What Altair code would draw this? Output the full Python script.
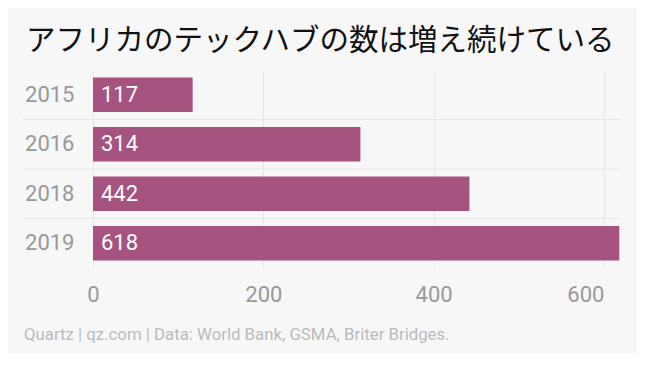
import altair as alt
import pandas as pd

years = ["2015", "2016", "2018", "2019"]
hubs = [117, 314, 442, 618]
x_ticks = [0, 200, 400, 600]
divider_years = ["2016", "2018", "2019"]

title_text = "アフリカのテックハブの数は増え続けている"
footer_text = "Quartz | qz.com | Data: World Bank, GSMA, Briter Bridges."

df = pd.DataFrame({"year": years, "hubs": hubs})
div_df = pd.DataFrame({"year": divider_years})
foot_df = pd.DataFrame({"t": [footer_text]})

W, H = 528, 198
BAR = "#a6547f"
LABEL_FONT = "Roboto"

yscale = alt.Scale(domain=years, paddingInner=0.3, paddingOuter=0.15)
xscale = alt.Scale(domain=[0, 620], nice=False)

bars = alt.Chart(df).mark_bar(color=BAR).encode(
    x=alt.X("hubs:Q", scale=xscale,
            axis=alt.Axis(values=x_ticks, title=None, domain=False, ticks=False,
                          grid=True, gridColor="#e6e6e6", gridWidth=1,
                          labelFont=LABEL_FONT, labelFontSize=22, labelColor="#999999",
                          labelPadding=16,
                          labelAlign=alt.expr("datum.value >= 600 ? 'right' : 'center'"))),
    y=alt.Y("year:N", scale=yscale,
            axis=alt.Axis(title=None, domain=False, ticks=False, grid=False,
                          labelFont=LABEL_FONT, labelFontSize=22, labelColor="#999999",
                          labelPadding=19)),
)

labels = alt.Chart(df).mark_text(
    align="left", baseline="middle", dx=8, color="white",
    font=LABEL_FONT, fontSize=22
).encode(
    x=alt.datum(0, scale=xscale),
    y=alt.Y("year:N", scale=yscale),
    text="hubs:Q",
)

dividers = alt.Chart(div_df).mark_rule(color="#e6e6e6", strokeWidth=1).encode(
    y=alt.Y("year:N", scale=yscale),
    yOffset=alt.value(-7.4),
    x=alt.value(-70),
    x2=alt.value(W),
)

footer = alt.Chart(foot_df).mark_text(
    align="left", baseline="alphabetic", color="#bbbbbb",
    font=LABEL_FONT, fontSize=16.8
).encode(
    x=alt.value(-69),
    y=alt.value(270),
    text="t:N",
)

chart = alt.layer(dividers, bars, labels, footer).properties(
    width=W, height=H,
    title=alt.Title(title_text, anchor="start", frame="group", dx=-67,
                    offset=21, dy=30, baseline="alphabetic",
                    font="Noto Sans CJK JP", fontSize=29.5, fontWeight="normal",
                    color="#111111"),
    autosize=alt.AutoSizeParams(type="none"),
    padding={"left": 85, "top": 62, "right": 16, "bottom": 85},
    background="#f7f7f7",
).configure_view(stroke=None)

chart.save("out.html", embed_options={"renderer": "svg", "actions": False})
